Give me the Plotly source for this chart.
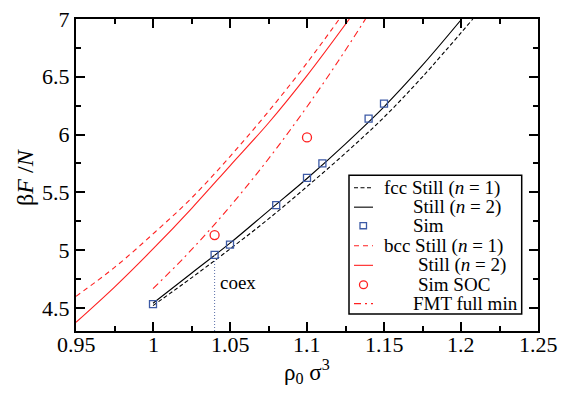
import plotly.graph_objects as go

# ---- data ----
fcc1_x = [1.0, 1.025, 1.05, 1.075, 1.1, 1.125, 1.15, 1.175, 1.2077]
fcc1_y = [4.52, 4.76, 5.01, 5.27, 5.55, 5.84, 6.15, 6.50, 7.0]

fcc2_x = [1.0, 1.025, 1.05, 1.075, 1.1, 1.125, 1.15, 1.175, 1.2005]
fcc2_y = [4.54, 4.80, 5.06, 5.34, 5.62, 5.92, 6.24, 6.60, 7.0]

sim_x = [1.0, 1.04, 1.05, 1.08, 1.10, 1.11, 1.14, 1.15]
sim_y = [4.533, 4.958, 5.047, 5.39, 5.625, 5.75, 6.138, 6.267]

bcc1_x = [0.95, 0.975, 1.0, 1.025, 1.05, 1.075, 1.1, 1.121]
bcc1_y = [4.60, 4.85, 5.14, 5.45, 5.81, 6.20, 6.62, 7.0]

bcc2_x = [0.95, 0.975, 1.0, 1.025, 1.05, 1.075, 1.1, 1.1275]
bcc2_y = [4.375, 4.68, 5.01, 5.36, 5.73, 6.10, 6.51, 7.0]

soc_x = [1.04, 1.10]
soc_y = [5.13, 5.975]

fmt_x = [1.0, 1.02, 1.04, 1.06, 1.08, 1.10, 1.12, 1.138]
fmt_y = [4.667, 4.933, 5.223, 5.538, 5.877, 6.241, 6.63, 7.0]

coex_x = 1.04
coex_top = 4.958

x_ticks = [0.95, 1.0, 1.05, 1.1, 1.15, 1.2, 1.25]
x_labels = ["0.95", "1", "1.05", "1.1", "1.15", "1.2", "1.25"]
y_ticks = [4.5, 5.0, 5.5, 6.0, 6.5, 7.0]
y_labels = ["4.5", "5", "5.5", "6", "6.5", "7"]

legend_names = [
    "fcc Still (<i>n</i> = 1)",
    "Still (<i>n</i> = 2)",
    "Sim",
    "bcc Still (<i>n</i> = 1)",
    "Still (<i>n</i> = 2)",
    "Sim SOC",
    "FMT full min",
]

# ---- layout geometry (pixels) ----
W, H = 573, 396
L, R, T, B = 76, 538, 7, 331
FONT = "Liberation Serif"
RED = "#ff2020"
BLUE = "#3c5aa6"


def px(x):
    return (x - L) / (R - L)


def py(y):
    return (B - y) / (B - T)


fig = go.Figure()

fig.add_trace(go.Scatter(x=fcc1_x, y=fcc1_y, mode="lines", line_shape="spline",
                         line=dict(color="black", width=1.1, dash="4px,2.5px"), showlegend=False))
fig.add_trace(go.Scatter(x=fcc2_x, y=fcc2_y, mode="lines", line_shape="spline",
                         line=dict(color="black", width=1.1), showlegend=False))
fig.add_trace(go.Scatter(x=bcc1_x, y=bcc1_y, mode="lines", line_shape="spline",
                         line=dict(color=RED, width=1.1, dash="5px,4px"), showlegend=False))
fig.add_trace(go.Scatter(x=bcc2_x, y=bcc2_y, mode="lines", line_shape="spline",
                         line=dict(color=RED, width=1.1), showlegend=False))
fig.add_trace(go.Scatter(x=fmt_x, y=fmt_y, mode="lines", line_shape="spline",
                         line=dict(color=RED, width=1.1, dash="7px,4px,2px,4px"), showlegend=False))
fig.add_trace(go.Scatter(x=[coex_x, coex_x], y=[4.3, coex_top], mode="lines",
                         line=dict(color="#5a6fa8", width=1, dash="1px,2px"), showlegend=False))
fig.add_trace(go.Scatter(x=sim_x, y=sim_y, mode="markers",
                         marker=dict(symbol="square-open", size=7, color=BLUE, line=dict(width=1.3)),
                         showlegend=False))
fig.add_trace(go.Scatter(x=soc_x, y=soc_y, mode="markers",
                         marker=dict(symbol="circle-open", size=9, color=RED, line=dict(width=1.3)),
                         showlegend=False))

axis_common = dict(showgrid=False, zeroline=False, showline=True, linecolor="black", linewidth=2,
                   mirror="ticks", ticks="inside", ticklen=9, tickwidth=1.5, tickcolor="black",
                   ticklabeloverflow="allow",
                   tickfont=dict(family=FONT, size=22, color="black"))

fig.update_xaxes(range=[0.95, 1.25], tickvals=x_ticks, ticktext=x_labels, showticklabels=False,
                 minor=dict(ticks="inside", ticklen=5, tickwidth=1.5, dtick=0.025, tick0=0.95,
                            tickcolor="black", showgrid=False),
                 **axis_common)
fig.update_yaxes(range=[4.3, 7.0], tickvals=y_ticks, ticktext=y_labels,
                 minor=dict(ticks="inside", ticklen=5, tickwidth=1.5, dtick=0.25, tick0=4.5,
                            tickcolor="black", showgrid=False),
                 **axis_common)

annotations = [
    dict(x=1.042, y=4.72, xref="x", yref="y", text="coex", showarrow=False,
         xanchor="left", yanchor="middle", font=dict(family=FONT, size=19, color="black")),
    dict(x=px(307), y=py(373), xref="paper", yref="paper",
         text="ρ<sub>0</sub> σ<sup>3</sup>", showarrow=False, xanchor="center", yanchor="middle",
         font=dict(family=FONT, size=23, color="black")),
    dict(x=px(25), y=py(171), xref="paper", yref="paper", text="β<i>F</i> /<i>N</i>",
         showarrow=False, textangle=-90, xanchor="center", yanchor="middle",
         font=dict(family=FONT, size=24, color="black")),
]

# x tick labels placed at the axis tick values
for tv, tl in zip(x_ticks, x_labels):
    annotations.append(dict(x=tv, y=py(345.3), xref="x", yref="paper", text=tl, showarrow=False,
                            xanchor="center", yanchor="middle",
                            font=dict(family=FONT, size=22, color="black")))

# ---- hand-built legend ----
rows_y = [182.3, 202.4, 221.6, 242.4, 262.8, 283.0, 302.6]
text_x = [383, 412, 412, 383, 417, 417, 412]
shapes = [dict(type="rect", xref="paper", yref="paper", x0=px(349), x1=px(521.7), y0=py(313.3), y1=py(169.3),
               line=dict(color="black", width=1.5), fillcolor="white", layer="above")]
line_styles = {0: ("black", "4px,2.5px"), 1: ("black", "solid"), 3: (RED, "5px,4px"),
               4: (RED, "solid"), 6: (RED, "7px,4px,2px,4px")}
for i, name in enumerate(legend_names):
    ry = rows_y[i]
    annotations.append(dict(x=px(text_x[i]), y=py(ry), xref="paper", yref="paper", text=name,
                            showarrow=False, xanchor="left", yanchor="middle", align="left",
                            borderpad=0, font=dict(family=FONT, size=19, color="black")))
    if i in line_styles:
        c, d = line_styles[i]
        shapes.append(dict(type="line", xref="paper", yref="paper", x0=px(354), x1=px(373),
                           y0=py(ry), y1=py(ry), line=dict(color=c, width=1.1, dash=d), layer="above"))
    elif i == 2:
        shapes.append(dict(type="rect", xref="paper", yref="paper", x0=px(360), x1=px(366.5),
                           y0=py(ry + 3.2), y1=py(ry - 3.2), line=dict(color=BLUE, width=1.3), layer="above"))
    elif i == 5:
        shapes.append(dict(type="circle", xref="paper", yref="paper", x0=px(359.5), x1=px(367.5),
                           y0=py(ry + 4), y1=py(ry - 4), line=dict(color=RED, width=1.3), layer="above"))

fig.update_layout(width=W, height=H, margin=dict(l=L, r=W - R, t=T, b=H - B),
                  paper_bgcolor="white", plot_bgcolor="white", showlegend=False,
                  annotations=annotations, shapes=shapes,
                  font=dict(family=FONT, color="black"))

fig.write_html("out.html")
